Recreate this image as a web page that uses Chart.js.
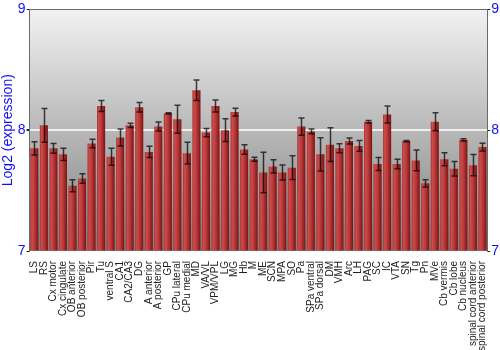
<!DOCTYPE html>
<html>
<head>
<meta charset="utf-8">
<script src="https://cdn.jsdelivr.net/npm/chart.js@4/dist/chart.umd.min.js"></script>
<style>
  html, body { margin: 0; padding: 0; background: #fff; }
  #wrap { width: 500px; height: 350px; }
</style>
</head>
<body>
<div id="wrap"><canvas id="expr"></canvas></div>
<script>
// brain regions along the x axis
const REGIONS = ["LS", "RS", "Cx motor", "Cx cingulate", "OB anterior", "OB posterior", "Pir", "Tu",
  "ventral S", "CA1", "CA2/CA3", "DG", "A anterior", "A posterior", "GP", "CPu lateral", "CPu medial",
  "MD", "VA/VL", "VPM/VPL", "LG", "MG", "Hb", "M", "ME", "SCN", "MPA", "SO", "Pa", "SPa ventral",
  "SPa dorsal", "DM", "VMH", "Arc", "LH", "PAG", "SC", "IC", "VTA", "SN", "Tg", "Pn", "MVe",
  "Cb vermis", "Cb lobe", "Cb nucleus", "spinal cord anterior", "spinal cord posterior"];

// mean log2 expression per region
const MEANS = [7.85, 8.04, 7.85, 7.80, 7.54, 7.60, 7.89, 8.20,
  7.78, 7.94, 8.04, 8.19, 7.82, 8.03, 8.14, 8.09, 7.81,
  8.33, 7.98, 8.20, 8.00, 8.15, 7.84, 7.76, 7.65, 7.70, 7.65, 7.69, 8.03, 7.99,
  7.80, 7.88, 7.85, 7.91, 7.87, 8.07, 7.72, 8.13, 7.72, 7.91, 7.75, 7.56, 8.07,
  7.76, 7.68, 7.92, 7.71, 7.86];

// error bar half-lengths
const ERRORS = [0.055, 0.14, 0.04, 0.05, 0.05, 0.04, 0.035, 0.045,
  0.07, 0.07, 0.017, 0.04, 0.047, 0.037, 0.005, 0.116, 0.09,
  0.085, 0.035, 0.05, 0.094, 0.032, 0.04, 0.017, 0.167, 0.055, 0.062, 0.098, 0.072, 0.02,
  0.137, 0.14, 0.037, 0.025, 0.044, 0.01, 0.054, 0.07, 0.04, 0.005, 0.086, 0.03, 0.075,
  0.054, 0.06, 0.01, 0.088, 0.033];

const Y_MIN = 7, Y_MAX = 9;
const BLUE = "#1010ff";

// gray gradient behind the bars
const backdrop = {
  id: "backdrop",
  beforeDraw(chart) {
    const { ctx, chartArea: a } = chart;
    const g = ctx.createLinearGradient(0, a.top, 0, a.bottom);
    g.addColorStop(0, "#f2f2f2");
    g.addColorStop(1, "#7e7e7e");
    ctx.save();
    ctx.fillStyle = g;
    ctx.fillRect(a.left, a.top, a.right - a.left, a.bottom - a.top);
    ctx.restore();
  }
};

// error bars drawn from the scale
const errorBars = {
  id: "errorBars",
  afterDatasetsDraw(chart) {
    const { ctx } = chart;
    const y = chart.scales.y;
    const meta = chart.getDatasetMeta(0);
    ctx.save();
    ctx.strokeStyle = "rgba(0,0,0,0.72)";
    ctx.lineWidth = 1.5;
    meta.data.forEach((bar, i) => {
      const top = y.getPixelForValue(MEANS[i] + ERRORS[i]);
      const bot = y.getPixelForValue(MEANS[i] - ERRORS[i]);
      const x = Math.round(bar.x) + 0.5;
      ctx.beginPath();
      ctx.moveTo(x, top); ctx.lineTo(x, bot);
      ctx.moveTo(x - 3, top); ctx.lineTo(x + 3, top);
      ctx.moveTo(x - 3, bot); ctx.lineTo(x + 3, bot);
      ctx.stroke();
    });
    ctx.restore();
  }
};

function barColor(c) {
  const chart = c.chart;
  const xs = chart.scales.x;
  if (!xs || !chart.chartArea) return "#b83a3a";
  const cx = xs.getPixelForValue(c.dataIndex);
  const w = xs.width / REGIONS.length * 0.85;
  const g = chart.ctx.createLinearGradient(cx - w / 2, 0, cx + w / 2, 0);
  g.addColorStop(0, "#a83030");
  g.addColorStop(0.2, "#cc4c4c");
  g.addColorStop(0.55, "#b83636");
  g.addColorStop(1, "#781414");
  return g;
}

const config = {
  type: "bar",
  data: {
    labels: REGIONS,
    datasets: [{
      data: MEANS,
      base: Y_MIN,
      backgroundColor: barColor,
      borderWidth: 0,
      barPercentage: 0.85,
      categoryPercentage: 1
    }]
  },
  options: {
    responsive: true,
    maintainAspectRatio: false,
    animation: false,
    layout: { padding: { top: 8, right: 0, left: 0, bottom: 0 } },
    plugins: { legend: { display: false }, tooltip: { enabled: false } },
    scales: {
      x: {
        grid: { display: false },
        border: { display: false },
        afterFit(scale) { scale.height = 99; },
        ticks: {
          autoSkip: false, maxRotation: 90, minRotation: 90, padding: 2,
          color: "#222", font: { family: "Liberation Sans, Arial", size: 10 }
        }
      },
      y: {
        min: Y_MIN, max: Y_MAX,
        border: { display: true, color: "#6a6a6a", width: 1 },
        grid: {
          color: (c) => c.tick.value === 8 ? "#eeeeee" : (c.tick.value === 9 ? "#6a6a6a" : "rgba(0,0,0,0)"),
          lineWidth: (c) => c.tick.value === 8 ? 2 : 1,
          tickColor: "#222", tickLength: 3
        },
        ticks: { stepSize: 1, padding: 1, color: BLUE, font: { family: "Liberation Sans, Arial", size: 14 } },
        title: { display: true, text: "Log2 (expression)", color: BLUE, padding: 0,
          font: { family: "Liberation Sans, Arial", size: 14 } }
      },
      y2: {
        position: "right",
        min: Y_MIN, max: Y_MAX,
        border: { display: true, color: "#6a6a6a", width: 1 },
        grid: { drawOnChartArea: false, tickColor: "#222", tickLength: 3 },
        ticks: { stepSize: 1, padding: 1, color: BLUE, font: { family: "Liberation Sans, Arial", size: 14 } }
      }
    }
  },
  plugins: [backdrop, errorBars]
};

new Chart(document.getElementById("expr").getContext("2d"), config);
</script>
</body>
</html>
